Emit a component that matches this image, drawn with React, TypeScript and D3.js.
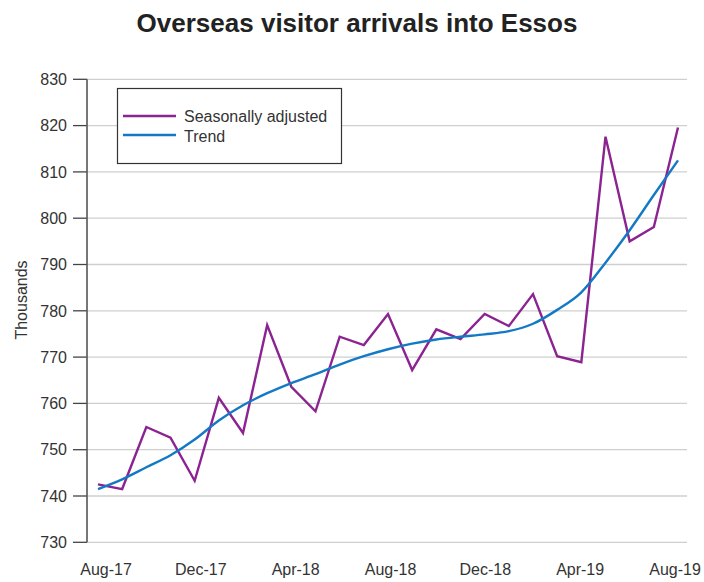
import React from "react";
import * as d3 from "d3";

const months = [
  "Aug-17", "Sep-17", "Oct-17", "Nov-17", "Dec-17", "Jan-18", "Feb-18", "Mar-18", "Apr-18",
  "May-18", "Jun-18", "Jul-18", "Aug-18", "Sep-18", "Oct-18", "Nov-18", "Dec-18",
  "Jan-19", "Feb-19", "Mar-19", "Apr-19", "May-19", "Jun-19", "Jul-19", "Aug-19",
];

const seasonallyAdjusted = [
  742.5, 741.5, 754.9, 752.6, 743.3, 761.2, 753.6, 776.9, 763.6, 758.3, 774.4, 772.6,
  779.3, 767.2, 776.0, 773.9, 779.3, 776.7, 783.6, 770.2, 768.9, 817.6, 795.0, 798.1, 819.6,
];

const trend = [
  741.5, 743.6, 746.2, 748.8, 752.2, 756.3, 759.6, 762.2, 764.4, 766.3, 768.4, 770.2,
  771.7, 772.9, 773.8, 774.4, 774.9, 775.6, 777.2, 780.2, 784.0, 790.4, 797.4, 805.0, 812.5,
];

const yTicks = [730, 740, 750, 760, 770, 780, 790, 800, 810, 820, 830];
const xLabels = ["Aug-17", "Dec-17", "Apr-18", "Aug-18", "Dec-18", "Apr-19", "Aug-19"];

const seriesNames = ["Seasonally adjusted", "Trend"];
const seriesColors = ["#8b2391", "#1479c4"];

const FONT = "'Liberation Sans', Arial, Helvetica, sans-serif";

export default function App() {
  const x = d3.scalePoint<string>().domain(months).range([98, 678]);
  const y = d3.scaleLinear().domain([730, 830]).range([542.3, 79.3]);
  const labelX = d3.scaleLinear().domain([0, months.length - 1]).range([106, 675]);

  const line = d3
    .line<number>()
    .x((_, i) => x(months[i]) as number)
    .y((d) => y(d));
  const smooth = d3
    .line<number>()
    .x((_, i) => x(months[i]) as number)
    .y((d) => y(d))
    .curve(d3.curveMonotoneX);

  const legendItems = seriesNames.map((name, i) => ({ name, color: seriesColors[i] }));

  return (
    <svg
      width={704}
      height={582}
      style={{ position: "absolute", left: 0, top: 0, background: "#fff" }}
      fontFamily={FONT}
    >
      <rect x={0} y={0} width={704} height={582} fill="#fff" />
      <text x={357} y={32} textAnchor="middle" fontSize={26} fontWeight="bold" fill="#222">
        Overseas visitor arrivals into Essos
      </text>

      {yTicks.map((t) => (
        <g key={t}>
          <line x1={87} x2={687} y1={y(t)} y2={y(t)} stroke="#cfcfcf" strokeWidth={1.3} />
          <line x1={73} x2={87} y1={y(t)} y2={y(t)} stroke="#444" strokeWidth={1.3} />
          <text x={67} y={y(t)} dy="0.36em" textAnchor="end" fontSize={16} fill="#333">
            {t}
          </text>
        </g>
      ))}
      <line x1={87} x2={87} y1={y(830)} y2={y(730)} stroke="#555" strokeWidth={1.6} />

      <text
        transform={`translate(27,300) rotate(-90)`}
        textAnchor="middle"
        fontSize={16}
        fill="#333"
      >
        Thousands
      </text>

      {xLabels.map((lab) => (
        <text
          key={lab}
          x={labelX(months.indexOf(lab))}
          y={575}
          textAnchor="middle"
          fontSize={16}
          fill="#333"
        >
          {lab}
        </text>
      ))}

      <path d={line(seasonallyAdjusted) || ""} fill="none" stroke={seriesColors[0]} strokeWidth={2.4} strokeLinejoin="miter" />
      <path d={smooth(trend) || ""} fill="none" stroke={seriesColors[1]} strokeWidth={2.4} />

      <rect x={117.5} y={88.5} width={224} height={75} fill="#fff" stroke="#333" strokeWidth={1.2} />
      {legendItems.map((it, i) => (
        <g key={it.name}>
          <line x1={123} x2={176} y1={116 + i * 19} y2={116 + i * 19} stroke={it.color} strokeWidth={2.4} />
          <text x={184} y={121.5 + i * 20} fontSize={16} fill="#333">
            {it.name}
          </text>
        </g>
      ))}
    </svg>
  );
}
